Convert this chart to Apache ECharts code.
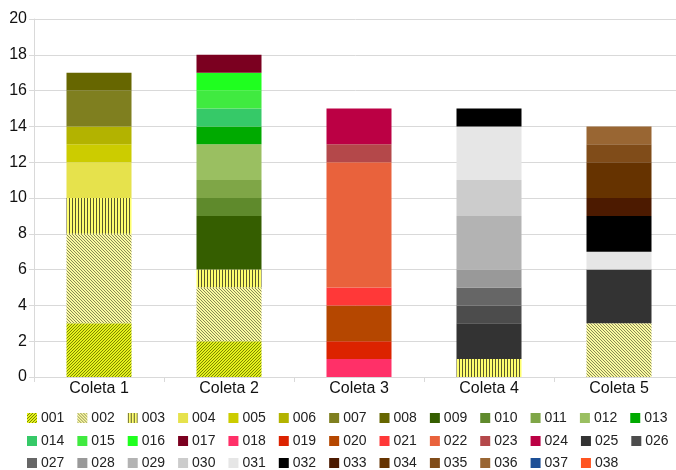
<!DOCTYPE html>
<html>
<head>
<meta charset="utf-8">
<script src="https://cdn.jsdelivr.net/npm/echarts@6/dist/echarts.min.js"></script>
<style>
  html, body { margin: 0; padding: 0; background: #fff; }
  #chart { width: 676px; height: 470px; }
</style>
</head>
<body>
<div id="chart"></div>
<script>
// Collection points on the x axis
const categories = ['Coleta 1', 'Coleta 2', 'Coleta 3', 'Coleta 4', 'Coleta 5'];

// Specimen codes (one stacked series each)
const codes = ['001','002','003','004','005','006','007','008','009','010',
               '011','012','013','014','015','016','017','018','019','020',
               '021','022','023','024','025','026','027','028','029','030',
               '031','032','033','034','035','036','037','038'];

// Counts per code, one list per collection (same order as codes)
const coleta1 = [3,5,2,2,1,1,2,1,0,0, 0,0,0,0,0,0,0,0,0,0, 0,0,0,0,0,0,0,0,0,0, 0,0,0,0,0,0,0,0];
const coleta2 = [2,3,1,0,0,0,0,0,3,1, 1,2,1,1,1,1,1,0,0,0, 0,0,0,0,0,0,0,0,0,0, 0,0,0,0,0,0,0,0];
const coleta3 = [0,0,0,0,0,0,0,0,0,0, 0,0,0,0,0,0,0,1,1,2, 1,7,1,2,0,0,0,0,0,0, 0,0,0,0,0,0,0,0];
const coleta4 = [0,0,1,0,0,0,0,0,0,0, 0,0,0,0,0,0,0,0,0,0, 0,0,0,0,2,1,1,1,3,2, 3,1,0,0,0,0,0,0];
const coleta5 = [0,3,0,0,0,0,0,0,0,0, 0,0,0,0,0,0,0,0,0,0, 0,0,0,0,3,0,0,0,0,0, 1,2,1,2,1,1,0,0];

// Solid fill colours (the first three codes use hatch fills instead)
const colors = [null, null, null, '#e6e24c', '#cccc00', '#b3b300', '#7f7f1f', '#666600', '#355e00', '#5f8a2c',
                '#7fa647', '#9abf61', '#00aa00', '#36c968', '#40ea40', '#1fff1f', '#7b0020', '#ff3068', '#dc2300', '#b54700',
                '#ff3838', '#e9623c', '#b4484a', '#bb0044', '#333333', '#4c4c4c', '#666666', '#999999', '#b3b3b3', '#cccccc',
                '#e6e6e6', '#000000', '#4c1a00', '#663300', '#804c19', '#996633', '#1c4f96', '#ff5420'];

// Legend rows (codes per row)
const legendRows = [codes.slice(0, 13), codes.slice(13, 26), codes.slice(26)];

// Hatch tile: kind = 'fwd' (/), 'back' (\), 'vert' (|)
function hatch(bg, fg, kind) {
  const n = 3;
  const c = document.createElement('canvas');
  c.width = n; c.height = n;
  const g = c.getContext('2d');
  g.fillStyle = bg; g.fillRect(0, 0, n, n);
  g.fillStyle = fg;
  for (let y = 0; y < n; y++) {
    for (let x = 0; x < n; x++) {
      let on = false;
      if (kind === 'fwd') on = (x + y) % n === n - 1;
      else if (kind === 'back') on = (x - y + n) % n === 0;
      else on = x % n === 0;
      if (on) g.fillRect(x, y, 1, 1);
    }
  }
  return { image: c, repeat: 'repeat' };
}

const fills = colors.slice();
fills[0] = hatch('#e4f21c', '#7c8700', 'fwd');
fills[1] = hatch('#fbfaa2', '#8a8a55', 'back');
fills[2] = hatch('#ffff6e', '#58582e', 'vert');

const perCollection = [coleta1, coleta2, coleta3, coleta4, coleta5];

const series = codes.map((code, i) => ({
  name: code,
  type: 'bar',
  stack: 'total',
  barWidth: '50%',
  itemStyle: { color: fills[i] },
  emphasis: { disabled: true },
  data: perCollection.map(col => col[i] === 0 ? null : col[i])
}));

const legendTops = [411, 434, 456];
const legends = legendRows.map((row, r) => ({
  left: 27,
  top: legendTops[r],
  width: 720,
  orient: 'horizontal',
  itemWidth: 10,
  itemHeight: 10,
  itemGap: 13,
  icon: 'rect',
  padding: 0,
  textStyle: { fontSize: 14, color: '#222', padding: [0, 0, 0, -1] },
  data: row
}));

const chart = echarts.init(document.getElementById('chart'), null, { renderer: 'canvas' });
chart.setOption({
  animation: false,
  backgroundColor: '#ffffff',
  textStyle: { fontFamily: 'Liberation Sans, Arial, sans-serif' },
  grid: { left: 34, top: 19, width: 650, height: 358, containLabel: false, outerBoundsMode: 'none' },
  legend: legends,
  xAxis: {
    type: 'category',
    data: categories,
    axisLine: { lineStyle: { color: '#d9d9d9' } },
    axisTick: { show: true, length: 5, lineStyle: { color: '#d9d9d9' } },
    axisLabel: { fontSize: 16, color: '#111', margin: 4 }
  },
  yAxis: {
    type: 'value',
    min: 0,
    max: 20,
    interval: 2,
    axisLine: { show: true, lineStyle: { color: '#d9d9d9' } },
    axisTick: { show: true, length: 5, lineStyle: { color: '#d9d9d9' } },
    axisLabel: { fontSize: 16, color: '#111', margin: 7 },
    splitLine: { lineStyle: { color: '#d9d9d9' } }
  },
  series: series
});
</script>
</body>
</html>
